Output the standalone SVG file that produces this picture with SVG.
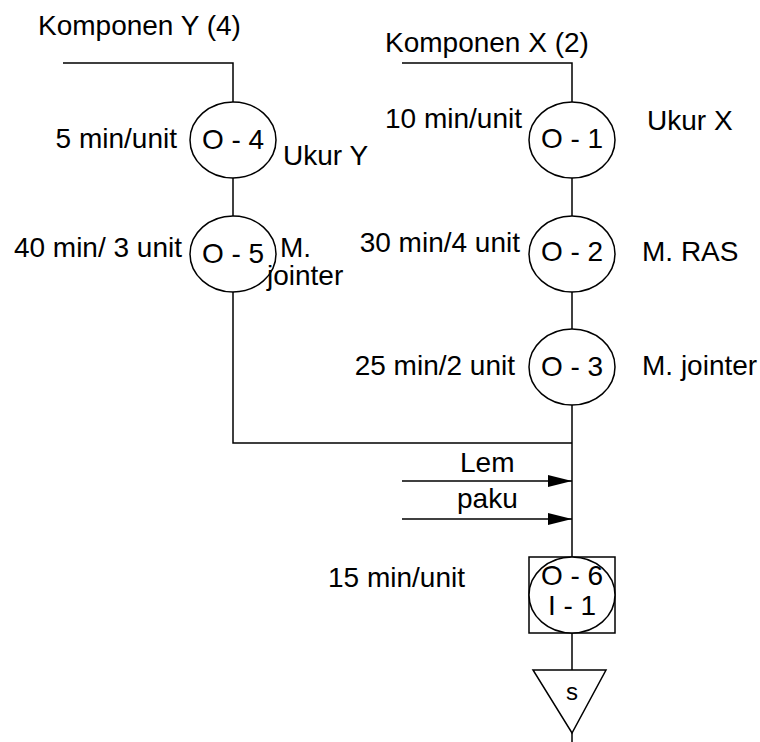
<svg xmlns="http://www.w3.org/2000/svg" width="760" height="742" viewBox="0 0 760 742">
<style>
text{font-family:"Liberation Sans",Arial,sans-serif;font-size:28px;fill:#000}
.c{text-anchor:middle}
.e{text-anchor:end}
.sh{fill:#fff;stroke:#000;stroke-width:1.5}
.ln{fill:none;stroke:#000;stroke-width:1.5}
</style>
<defs>
<marker id="ah" viewBox="0 0 24 12" refX="24" refY="6" markerWidth="24" markerHeight="12" markerUnits="userSpaceOnUse" orient="auto">
<path d="M0,0 L24,6 L0,12 Z" fill="#000"/>
</marker>
</defs>
<rect width="760" height="742" fill="#fff"/>
<g id="connectors">
<path class="ln" d="M63,63 H233 V102"/>
<path class="ln" d="M233,178 V216"/>
<path class="ln" d="M233,292 V443 H572"/>
<path class="ln" d="M402,63 H572 V102"/>
<path class="ln" d="M572,178 V216"/>
<path class="ln" d="M572,292 V329"/>
<path class="ln" d="M572,405 V557"/>
<path class="ln" d="M572,633 V670"/>
<path class="ln" d="M572,733 V742"/>
<path class="ln" d="M402,481 H572" marker-end="url(#ah)"/>
<path class="ln" d="M402,519 H572" marker-end="url(#ah)"/>
</g>
<g id="labels">
<text x="38" y="35">Komponen Y (4)</text>
<text x="385" y="52">Komponen X (2)</text>
<text x="460" y="472">Lem</text>
<text x="457" y="508">paku</text>
</g>
<g id="O-4">
<ellipse class="sh" cx="233" cy="140" rx="43" ry="38"/>
<text class="c" x="233" y="149">O - 4</text>
<text class="e" x="177" y="148">5 min/unit</text>
<text x="283" y="165">Ukur Y</text>
</g>
<g id="O-5">
<ellipse class="sh" cx="233" cy="254" rx="43" ry="38"/>
<text class="c" x="233" y="263">O - 5</text>
<text class="e" x="182" y="257">40 min/ 3 unit</text>
<text x="280" y="257">M.</text>
<text x="267" y="285">jointer</text>
</g>
<g id="O-1">
<ellipse class="sh" cx="572" cy="140" rx="43" ry="38"/>
<text class="c" x="572" y="148">O - 1</text>
<text class="e" x="522" y="128">10 min/unit</text>
<text x="647" y="130">Ukur X</text>
</g>
<g id="O-2">
<ellipse class="sh" cx="572" cy="254" rx="43" ry="38"/>
<text class="c" x="572" y="261">O - 2</text>
<text class="e" x="520" y="252">30 min/4 unit</text>
<text x="642" y="261">M. RAS</text>
</g>
<g id="O-3">
<ellipse class="sh" cx="572" cy="367" rx="43" ry="38"/>
<text class="c" x="572" y="376">O - 3</text>
<text class="e" x="515" y="375">25 min/2 unit</text>
<text x="642" y="375">M. jointer</text>
</g>
<g id="O-6">
<rect class="sh" x="529" y="557" width="86" height="76"/>
<ellipse class="sh" cx="572" cy="595" rx="43" ry="38"/>
<text class="c" x="572" y="585">O - 6</text>
<text class="c" x="572" y="615">I - 1</text>
<text x="328" y="587">15 min/unit</text>
</g>
<g id="S">
<path class="sh" d="M533,670 H606 L572,733 Z"/>
<text class="c" x="572" y="700" style="font-size:24px">s</text>
</g>
</svg>
